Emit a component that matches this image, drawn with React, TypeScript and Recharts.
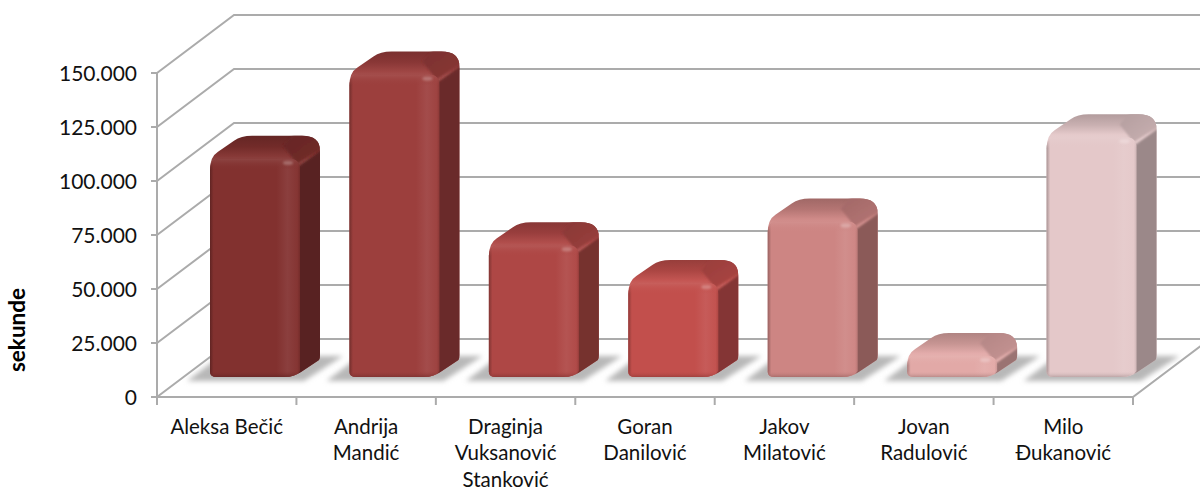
import { BarChart, Bar, XAxis, YAxis, CartesianGrid, Cell } from "recharts";

const names = [
  "Aleksa Bečić",
  "Andrija Mandić",
  "Draginja Vuksanović Stanković",
  "Goran Danilović",
  "Jakov Milatović",
  "Jovan Radulović",
  "Milo Đukanović",
];
const seconds = [101000, 140000, 61000, 43500, 72000, 9700, 111000];
const yTicks = [0, 25000, 50000, 75000, 100000, 125000, 150000];
const barColors = ["#82312f", "#9c3f3d", "#ae4745", "#c24f4c", "#cd8583", "#e2a9a7", "#e4c8c9"];

const data = names.map((name, i) => ({ name, seconds: seconds[i] }));

const WIDTH = 1200;
const HEIGHT = 490;
const LEFT = 157;
const RIGHT = 1133;
const GRID_COLOR = "#ababab";
const FONT = "Lato, sans-serif";
// depth of the fake 3d box
const BACK_X = 77;
const BACK_Y = 58;

const shade = (hex: string, f: number) => {
  const n = parseInt(hex.slice(1), 16);
  const c = [(n >> 16) & 255, (n >> 8) & 255, n & 255].map((v) =>
    Math.min(255, Math.round(f > 1 ? v + (255 - v) * (f - 1) : v * f))
  );
  return `rgb(${c.join(",")})`;
};

function GridLine(props: any) {
  const { x1, y1, x2, y2 } = props;
  const isFloor = y1 === 397;
  return (
    <g fill="none" stroke={GRID_COLOR} strokeWidth={2}>
      <path d={`M${x1},${y1} L${x1 + BACK_X},${y1 - BACK_Y} L${WIDTH},${y2 - BACK_Y}`} />
      {isFloor && <path d={`M${x1},${y1} L${x2},${y2} L${x2 + BACK_X},${y2 - BACK_Y}`} />}
    </g>
  );
}

function ValueTick(props: any) {
  const { x, y, payload } = props;
  return (
    <text x={x} y={y + 8} textAnchor="end" fontFamily={FONT} fontSize={21} fill="#111">
      {payload.value.toLocaleString("de-DE")}
    </text>
  );
}

function CategoryTick(props: any) {
  const { x, index, payload } = props;
  const half = (RIGHT - LEFT) / names.length / 2;
  const parts: string[] = payload.value.split(" ");
  const lines = index === 0 ? [payload.value] : parts;
  return (
    <g>
      <line x1={x - half} x2={x - half} y1={397} y2={405} stroke={GRID_COLOR} strokeWidth={2} />
      {index === names.length - 1 && (
        <line x1={x + half} x2={x + half} y1={397} y2={405} stroke={GRID_COLOR} strokeWidth={2} />
      )}
      <text textAnchor="middle" fontFamily={FONT} fontSize={20.5} fill="#111">
        {lines.map((line, i) => (
          <tspan key={line} x={x} y={433.5 + i * 26.5}>
            {line}
          </tspan>
        ))}
      </text>
    </g>
  );
}

function Bar3D(props: any) {
  const { x: cx, y, width: w, height: h, index } = props;
  const color = barColors[index];
  const x = cx + 28;
  const top = y - 20;
  const b = top + h;
  const dx = 20;
  const dy = 23;
  const r = Math.min(11, h / 2.2);
  const silhouette = `M${x},${b - 5} Q${x},${b} ${x + 7},${b} L${x + w - 16},${b} Q${x + w - 6},${b} ${x + w + 1},${b - 5}
    L${x + w + dx - 1},${b - 17} Q${x + w + dx},${b - 18} ${x + w + dx},${b - 22} L${x + w + dx},${top - 8}
    Q${x + w + dx},${top - dy} ${x + w + 2},${top - dy}
    L${x + 42},${top - dy} Q${x + 31},${top - dy} ${x + 24},${top - 18} L${x + 8},${top - 7}
    Q${x},${top - 2} ${x},${top + r} Z`;
  const side = `M${x + w - 2},${top + 8} L${x + w + dx + 2},${top - 9} L${x + w + dx + 2},${b - 14}
    L${x + w - 2},${b + 2} Z`;
  const facet = `M${x + w - 17},${top - 13} L${x + w - 3},${top + 5} L${x + w + dx + 2},${top - 11} L${x + w + dx + 2},${top - dy - 2}
    L${x + w - 6},${top - dy - 2} Z`;
  const face = `M${x},${b - 5} Q${x},${b} ${x + 7},${b} L${x + w - 16},${b} Q${x + w - 4},${b} ${x + w},${b - 6}
    L${x + w},${top + r} Q${x + w},${top} ${x + w - 11},${top} L${x + 11},${top} Q${x},${top} ${x},${top + r} Z`;
  return (
    <g>
      <defs>
        <clipPath id={`shape${index}`}>
          <path d={silhouette} />
        </clipPath>
        <linearGradient id={`top${index}`} gradientUnits="userSpaceOnUse" x1={0} x2={0} y1={top - dy} y2={top + 1}>
          <stop offset="0" stopColor={shade(color, 0.78)} />
          <stop offset="0.45" stopColor={shade(color, 0.88)} />
          <stop offset="0.85" stopColor={shade(color, 1.04)} />
          <stop offset="1" stopColor={shade(color, 1.09)} />
        </linearGradient>
        <linearGradient id={`facet${index}`} gradientUnits="userSpaceOnUse" x1={x + w - 8} x2={x + w + 8} y1={top - dy} y2={top}>
          <stop offset="0" stopColor={shade(color, 0.8)} />
          <stop offset="1" stopColor={shade(color, 0.86)} />
        </linearGradient>
        <linearGradient id={`bevel${index}`} gradientUnits="userSpaceOnUse" x1={0} x2={0} y1={top} y2={b}>
          <stop offset="0" stopColor={shade(color, 1.09)} stopOpacity={1} />
          <stop offset={Math.min(0.45, 11 / h)} stopColor={color} stopOpacity={0} />
          <stop offset={Math.max(0.55, 1 - 6 / h)} stopColor={color} stopOpacity={0} />
          <stop offset="1" stopColor={shade(color, 0.78)} stopOpacity={0.8} />
        </linearGradient>
      </defs>
      <path
        d={`M${x - 23},${b + 4} L${x + w + 4},${b + 4} L${x + w + 43},${b - 21} L${x + 10},${b - 21} Z`}
        fill="#b8b8b8"
        filter="url(#floorShadow)"
      />
      <path d={silhouette} fill={`url(#top${index})`} />
      <g clipPath={`url(#shape${index})`}>
        <path d={facet} fill={`url(#facet${index})`} filter="url(#softEdge)" />
        <path d={side} fill={shade(color, 0.68)} filter="url(#softEdge)" />
      </g>
      <path d={face} fill={`url(#front${index})`} />
      <path d={face} fill={`url(#bevel${index})`} />
      <ellipse
        cx={x + w - 12}
        cy={top + 4}
        rx={5}
        ry={2.2}
        fill={shade(color, 1.28)}
        filter="url(#softSpot)"
      />
    </g>
  );
}

export default function App() {
  return (
    <div style={{ position: "absolute", left: 0, top: 0, background: "#fff" }}>
      <BarChart
        width={WIDTH}
        height={HEIGHT}
        data={data}
        margin={{ top: 73, right: WIDTH - RIGHT, bottom: 0, left: 0 }}
        barSize={90}
      >
        <defs>
          <filter id="floorShadow" x="-20%" y="-50%" width="140%" height="200%">
            <feGaussianBlur stdDeviation="2.6" />
          </filter>
          <filter id="softSpot" x="-50%" y="-100%" width="200%" height="300%">
            <feGaussianBlur stdDeviation="1.2" />
          </filter>
          <filter id="softEdge" x="-10%" y="-10%" width="120%" height="120%">
            <feGaussianBlur stdDeviation="1" />
          </filter>
          {barColors.map((color, i) => (
            <linearGradient key={color} id={`front${i}`} x1="0" y1="0" x2="1" y2="0">
              <stop offset="0" stopColor={shade(color, 0.74)} />
              <stop offset="0.04" stopColor={color} />
              <stop offset="0.74" stopColor={color} />
              <stop offset="0.86" stopColor={shade(color, 1.07)} />
              <stop offset="0.97" stopColor={shade(color, 1.02)} />
              <stop offset="1" stopColor={shade(color, 0.9)} />
            </linearGradient>
          ))}
        </defs>
        <CartesianGrid vertical={false} horizontal={(p: any) => <GridLine key={p.key} {...p} />} />
        <XAxis
          dataKey="name"
          height={HEIGHT - 397}
          interval={0}
          axisLine={false}
          tickLine={false}
          tick={<CategoryTick />}
        />
        <YAxis
          width={LEFT}
          domain={[0, 150000]}
          ticks={yTicks}
          interval={0}
          tick={<ValueTick />}
          tickSize={6}
          tickMargin={14}
          axisLine={{ stroke: GRID_COLOR, strokeWidth: 2 }}
          tickLine={{ stroke: GRID_COLOR, strokeWidth: 2 }}
          label={{
            content: () => (
              <text
                transform="rotate(-90 25 330)"
                x={25}
                y={330}
                textAnchor="middle"
                fontFamily={FONT}
                fontWeight={700}
                fontSize={22.5}
                fill="#000"
              >
                sekunde
              </text>
            ),
          }}
        />
        <Bar dataKey="seconds" shape={<Bar3D />} isAnimationActive={false}>
          {data.map((d, i) => (
            <Cell key={d.name} fill={barColors[i]} />
          ))}
        </Bar>
      </BarChart>
    </div>
  );
}
